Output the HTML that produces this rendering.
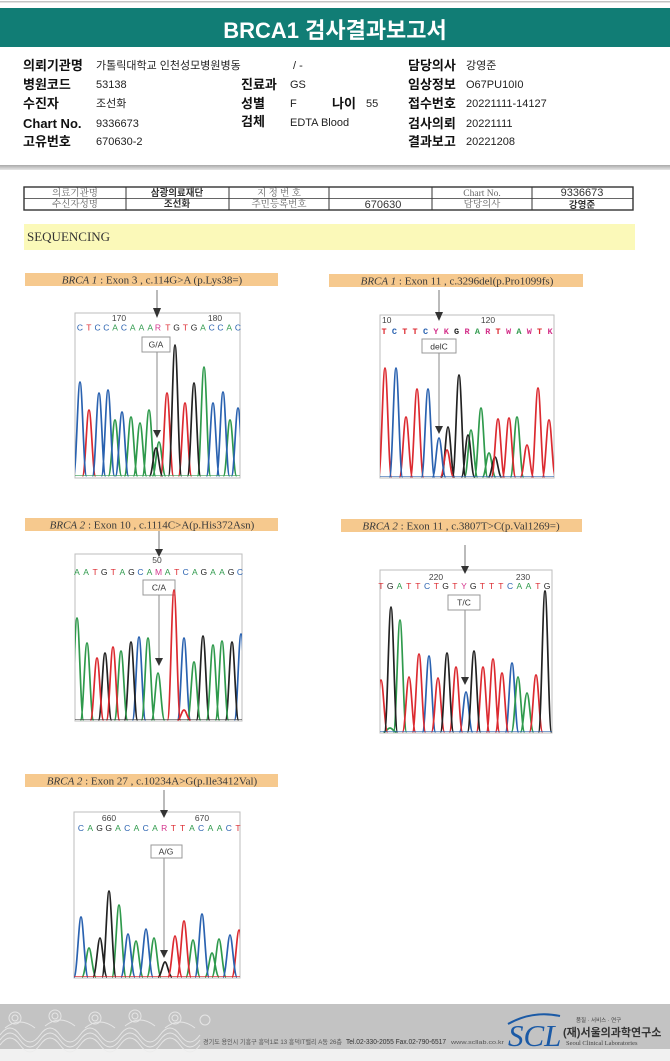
<!DOCTYPE html>
<html><head><meta charset="utf-8">
<style>
html,body{margin:0;padding:0;background:#fff;}
svg{display:block;}
.k{font-family:"Liberation Sans","Noto Sans CJK KR",sans-serif;}
.lb{font-family:"Liberation Sans","Noto Sans CJK KR",sans-serif;font-weight:bold;font-size:13px;fill:#111;}
.vl{font-family:"Liberation Sans","Noto Sans CJK KR",sans-serif;font-size:11px;fill:#222;}
.tg{font-family:"Liberation Serif","Noto Serif CJK SC","Noto Sans CJK KR",serif;font-size:9.5px;fill:#666;}
.tb{font-family:"Liberation Sans","Noto Sans CJK KR",sans-serif;font-size:9.5px;font-weight:bold;fill:#333;}
.band{font-family:"Liberation Serif",serif;font-size:11px;fill:#3a3a3a;}
.num{font-family:"Liberation Sans",sans-serif;font-size:8.5px;fill:#444;}
.seq{font-family:"Liberation Sans",sans-serif;font-size:8.5px;}
.seqb{font-family:"Liberation Mono",monospace;font-size:8.5px;font-weight:bold;}
.bx{font-family:"Liberation Sans",sans-serif;font-size:8.5px;fill:#333;}
.pk{fill:none;stroke-width:1.7;stroke-linejoin:round;}
.B{fill:#2a62b0}.R{fill:#dc2a30}.G{fill:#2f9a4c}.K{fill:#222}.M{fill:#d4348c}
</style></head>
<body>
<svg width="670" height="1061" viewBox="0 0 670 1061" xmlns="http://www.w3.org/2000/svg">
<defs>
<clipPath id="c1"><rect x="75" y="313" width="165" height="165"/></clipPath>
<clipPath id="c2"><rect x="380" y="315" width="174" height="163"/></clipPath>
<clipPath id="c3"><rect x="75" y="554" width="167" height="167"/></clipPath>
<clipPath id="c4"><rect x="380" y="570" width="172" height="163"/></clipPath>
<clipPath id="c5"><rect x="74" y="812" width="166" height="166"/></clipPath>
<linearGradient id="gl" x1="0" y1="0" x2="0" y2="1"><stop offset="0" stop-color="#a9a9a9"/><stop offset="1" stop-color="#e6e6e6"/></linearGradient>
</defs>

<!-- header -->
<rect x="0" y="1" width="670" height="1.5" fill="#c4c4c4"/>
<rect x="0" y="8" width="670" height="39" fill="#117d75"/>
<text x="335" y="38" text-anchor="middle" class="k" font-size="22" font-weight="bold" fill="#fff">BRCA1 검사결과보고서</text>

<g>
<text x="23" y="70" class="lb">의뢰기관명</text><text x="96" y="69" class="vl">가톨릭대학교 인천성모병원병동</text><text x="293" y="69" class="vl">/ -</text>
<text x="408" y="70" class="lb">담당의사</text><text x="466" y="69" class="vl">강영준</text>

<text x="23" y="89" class="lb">병원코드</text><text x="96" y="88" class="vl">53138</text>
<text x="241" y="89" class="lb">진료과</text><text x="290" y="88" class="vl">GS</text>
<text x="408" y="89" class="lb">임상정보</text><text x="466" y="88" class="vl">O67PU10I0</text>

<text x="23" y="108" class="lb">수진자</text><text x="96" y="107" class="vl">조선화</text>
<text x="241" y="108" class="lb">성별</text><text x="290" y="107" class="vl">F</text>
<text x="332" y="108" class="lb">나이</text><text x="366" y="107" class="vl">55</text>
<text x="408" y="108" class="lb">접수번호</text><text x="466" y="107" class="vl">20221111-14127</text>

<text x="23" y="128" class="lb" font-size="14">Chart No.</text><text x="96" y="127" class="vl">9336673</text>
<text x="241" y="126" class="lb">검체</text><text x="290" y="126" class="vl">EDTA Blood</text>
<text x="408" y="128" class="lb">검사의뢰</text><text x="466" y="127" class="vl">20221111</text>

<text x="23" y="146" class="lb">고유번호</text><text x="96" y="145" class="vl">670630-2</text>
<text x="408" y="146" class="lb">결과보고</text><text x="466" y="145" class="vl">20221208</text>
</g>

<rect x="0" y="165" width="670" height="5" fill="url(#gl)"/>

<!-- table -->
<g stroke="#333" fill="none">
<rect x="24" y="187" width="609" height="23" stroke-width="1.4"/>
<line x1="24" y1="198.5" x2="633" y2="198.5" stroke-width="0.8"/>
<line x1="126" y1="187" x2="126" y2="210" stroke-width="1"/>
<line x1="229" y1="187" x2="229" y2="210" stroke-width="1"/>
<line x1="329" y1="187" x2="329" y2="210" stroke-width="1"/>
<line x1="432" y1="187" x2="432" y2="210" stroke-width="1"/>
<line x1="532" y1="187" x2="532" y2="210" stroke-width="1"/>
</g>
<g text-anchor="middle">
<text x="75" y="196" class="tg">의료기관명</text>
<text x="177" y="196" class="tb">삼광의료재단</text>
<text x="279" y="196" class="tg">지 정 번 호</text>
<text x="482" y="196" class="tg" font-size="10.5">Chart No.</text>
<text x="582" y="196" class="k" font-size="11" fill="#333">9336673</text>
<text x="75" y="207" class="tg">수신자성명</text>
<text x="177" y="207" class="tb">조선화</text>
<text x="279" y="207" class="tg">주민등록번호</text>
<text x="383" y="208" class="k" font-size="11" fill="#333">670630</text>
<text x="482" y="207" class="tg">담당의사</text>
<text x="582" y="208" class="tb">강영준</text>
</g>

<!-- sequencing band -->
<rect x="24" y="224" width="611" height="26" fill="#fbf9b9"/>
<text x="27" y="241" font-family="Liberation Serif,serif" font-size="13" fill="#333">SEQUENCING</text>

<!-- ===== Chart 1 ===== -->
<rect x="25" y="273" width="253" height="13" fill="#f6c98e"/>
<text x="152" y="283.5" text-anchor="middle" class="band"><tspan font-style="italic">BRCA 1</tspan> : Exon 3 , c.114G&gt;A (p.Lys38=)</text>
<line x1="157" y1="290" x2="157" y2="310" stroke="#777" stroke-width="1"/>
<rect x="75" y="313" width="165" height="165" fill="#fff" stroke="#bdbdbd" stroke-width="1"/>
<polygon points="153,308 161,308 157,318" fill="#333"/>
<text x="119" y="321" text-anchor="middle" class="num">170</text>
<text x="215" y="321" text-anchor="middle" class="num">180</text>
<text y="330.5" text-anchor="middle" class="seq" x="80 88.8 97.6 106.3 115.1 123.9 132.7 141.4 150.2 158 167.8 176.6 185.3 194.1 202.9 211.7 220.4 229.2 238"><tspan class="B">C</tspan><tspan class="R">T</tspan><tspan class="B">CC</tspan><tspan class="G">A</tspan><tspan class="B">C</tspan><tspan class="G">AAA</tspan><tspan class="M">R</tspan><tspan class="R">T</tspan><tspan class="K">G</tspan><tspan class="R">T</tspan><tspan class="K">G</tspan><tspan class="G">A</tspan><tspan class="B">CC</tspan><tspan class="G">A</tspan><tspan class="B">C</tspan></text>
<line x1="157" y1="352" x2="157" y2="431" stroke="#888" stroke-width="1"/>
<rect x="142" y="337" width="28" height="15" fill="#fff" stroke="#999" stroke-width="1"/>
<text x="156" y="347.5" text-anchor="middle" class="bx">G/A</text>
<g clip-path="url(#c1)">
<path class="pk" stroke="#2f9a4c" d="M108.5,476c2.8,0 4.2,-56 6.5,-56c2.3,0 3.7,56 6.5,56M124.5,476c2.8,0 4.2,-59 6.5,-59c2.3,0 3.7,59 6.5,59M133.5,476c2.8,0 4.2,-53 6.5,-53c2.3,0 3.7,53 6.5,53M142.5,476c2.8,0 4.2,-66 6.5,-66c2.3,0 3.7,66 6.5,66M152.5,476c2.8,0 4.2,-34 6.5,-34c2.3,0 3.7,34 6.5,34M197.5,476c2.8,0 4.2,-109 6.5,-109c2.3,0 3.7,109 6.5,109M223.5,476c2.8,0 4.2,-56 6.5,-56c2.3,0 3.7,56 6.5,56"/>
<path class="pk" stroke="#dc2a30" d="M82.5,476c2.8,0 4.2,-66 6.5,-66c2.3,0 3.7,66 6.5,66M160.5,476c2.8,0 4.2,-83 6.5,-83c2.3,0 3.7,83 6.5,83M178.5,476c2.8,0 4.2,-73 6.5,-73c2.3,0 3.7,73 6.5,73"/>
<path class="pk" stroke="#2a62b0" d="M73.5,476c2.8,0 4.2,-94 6.5,-94c2.3,0 3.7,94 6.5,94M92.5,476c2.8,0 4.2,-83 6.5,-83c2.3,0 3.7,83 6.5,83M101.5,476c2.8,0 4.2,-86 6.5,-86c2.3,0 3.7,86 6.5,86M115.5,476c2.8,0 4.2,-64 6.5,-64c2.3,0 3.7,64 6.5,64M206.5,476c2.8,0 4.2,-73 6.5,-73c2.3,0 3.7,73 6.5,73M216.5,476c2.8,0 4.2,-84 6.5,-84c2.3,0 3.7,84 6.5,84M231.5,476c2.8,0 4.2,-68 6.5,-68c2.3,0 3.7,68 6.5,68"/>
<path class="pk" stroke="#222" d="M149.5,476c2.8,0 4.2,-28 6.5,-28c2.3,0 3.7,28 6.5,28M168.5,476c2.8,0 4.2,-131 6.5,-131c2.3,0 3.7,131 6.5,131M187.5,476c2.8,0 4.2,-93 6.5,-93c2.3,0 3.7,93 6.5,93"/>
<path d="M75,475.5h165" stroke="#2f9a4c" stroke-width="1" opacity=".6"/>
</g>
<polygon points="153,430 161,430 157,438" fill="#333"/>

<!-- ===== Chart 2 ===== -->
<rect x="329" y="274" width="254" height="13" fill="#f6c98e"/>
<text x="457" y="284.5" text-anchor="middle" class="band"><tspan font-style="italic">BRCA 1</tspan> : Exon 11 , c.3296del(p.Pro1099fs)</text>
<line x1="439" y1="290" x2="439" y2="312" stroke="#777" stroke-width="1"/>
<rect x="380" y="315" width="174" height="163" fill="#fff" stroke="#bdbdbd" stroke-width="1"/>
<polygon points="435,312 443,312 439,321" fill="#333"/>
<text x="382" y="323" class="num">10</text>
<text x="488" y="323" text-anchor="middle" class="num">120</text>
<text y="334" text-anchor="middle" class="seqb" x="384 394.4 404.8 415.1 425.5 435.9 446.3 456.6 467 477.4 487.8 498.1 508.5 518.9 529.3 539.6 550"><tspan class="R">T</tspan><tspan class="B">C</tspan><tspan class="R">TT</tspan><tspan class="B">C</tspan><tspan class="M">YK</tspan><tspan class="K">G</tspan><tspan class="M">R</tspan><tspan class="G">A</tspan><tspan class="M">R</tspan><tspan class="R">T</tspan><tspan class="M">W</tspan><tspan class="G">A</tspan><tspan class="M">W</tspan><tspan class="R">T</tspan><tspan class="M">K</tspan></text>
<line x1="439" y1="353" x2="439" y2="428" stroke="#888" stroke-width="1"/>
<rect x="422" y="339" width="34" height="14" fill="#fff" stroke="#999" stroke-width="1"/>
<text x="439" y="349.5" text-anchor="middle" class="bx">delC</text>
<g clip-path="url(#c2)">
<path class="pk" stroke="#2f9a4c" d="M464.5,477c2.8,0 4.2,-47 6.5,-47c2.3,0 3.7,47 6.5,47M474.5,477c2.8,0 4.2,-69 6.5,-69c2.3,0 3.7,69 6.5,69M482.5,477c2.8,0 4.2,-24 6.5,-24c2.3,0 3.7,24 6.5,24M510.5,477c2.8,0 4.2,-60 6.5,-60c2.3,0 3.7,60 6.5,60"/>
<path class="pk" stroke="#222" d="M441.5,477c2.8,0 4.2,-50 6.5,-50c2.3,0 3.7,50 6.5,50M452.5,477c2.8,0 4.2,-102 6.5,-102c2.3,0 3.7,102 6.5,102M461.5,477c2.8,0 4.2,-42 6.5,-42c2.3,0 3.7,42 6.5,42M488.5,477c2.8,0 4.2,-20 6.5,-20c2.3,0 3.7,20 6.5,20"/>
<path class="pk" stroke="#dc2a30" d="M378.5,477c2.8,0 4.2,-109 6.5,-109c2.3,0 3.7,109 6.5,109M399.5,477c2.8,0 4.2,-60 6.5,-60c2.3,0 3.7,60 6.5,60M410.5,477c2.8,0 4.2,-88 6.5,-88c2.3,0 3.7,88 6.5,88M440.5,477c2.8,0 4.2,-27 6.5,-27c2.3,0 3.7,27 6.5,27M491.5,477c2.8,0 4.2,-58 6.5,-58c2.3,0 3.7,58 6.5,58M502.5,477c2.8,0 4.2,-59 6.5,-59c2.3,0 3.7,59 6.5,59M520.5,477c2.8,0 4.2,-32 6.5,-32c2.3,0 3.7,32 6.5,32M531.5,477c2.8,0 4.2,-89 6.5,-89c2.3,0 3.7,89 6.5,89M542.5,477c2.8,0 4.2,-57 6.5,-57c2.3,0 3.7,57 6.5,57"/>
<path class="pk" stroke="#2a62b0" d="M389.5,477c2.8,0 4.2,-109 6.5,-109c2.3,0 3.7,109 6.5,109M421.5,477c2.8,0 4.2,-88 6.5,-88c2.3,0 3.7,88 6.5,88M432.5,477c2.8,0 4.2,-39 6.5,-39c2.3,0 3.7,39 6.5,39"/>
<path d="M380,476.5h174" stroke="#2a62b0" stroke-width="1" opacity=".6"/>
</g>
<polygon points="435,426 443,426 439,434" fill="#333"/>

<!-- ===== Chart 3 ===== -->
<rect x="25" y="518" width="253" height="13" fill="#f6c98e"/>
<text x="152" y="528.5" text-anchor="middle" class="band"><tspan font-style="italic">BRCA 2</tspan> : Exon 10 , c.1114C&gt;A(p.His372Asn)</text>
<line x1="159" y1="531" x2="159" y2="550" stroke="#777" stroke-width="1"/>
<rect x="75" y="554" width="167" height="167" fill="#fff" stroke="#bdbdbd" stroke-width="1"/>
<polygon points="155,549 163,549 159,557" fill="#333"/>
<text x="157" y="563" text-anchor="middle" class="num">50</text>
<text y="575" text-anchor="middle" class="seq" x="77 86.1 95.1 104.2 113.2 122.3 131.4 140.4 149.5 158.5 167.6 176.7 185.7 194.8 203.8 212.9 222 231 240"><tspan class="G">AA</tspan><tspan class="R">T</tspan><tspan class="K">G</tspan><tspan class="R">T</tspan><tspan class="G">A</tspan><tspan class="K">G</tspan><tspan class="B">C</tspan><tspan class="G">A</tspan><tspan class="M">M</tspan><tspan class="G">A</tspan><tspan class="R">T</tspan><tspan class="B">C</tspan><tspan class="G">A</tspan><tspan class="K">G</tspan><tspan class="G">AA</tspan><tspan class="K">G</tspan><tspan class="B">C</tspan></text>
<line x1="159" y1="595" x2="159" y2="660" stroke="#888" stroke-width="1"/>
<rect x="143" y="580" width="32" height="15" fill="#fff" stroke="#999" stroke-width="1"/>
<text x="159" y="590.5" text-anchor="middle" class="bx">C/A</text>
<g clip-path="url(#c3)">
<path class="pk" stroke="#2a62b0" d="M132.5,720c2.8,0 4.2,-83 6.5,-83c2.3,0 3.7,83 6.5,83M177.5,720c2.8,0 4.2,-82 6.5,-82c2.3,0 3.7,82 6.5,82M234.5,720c2.8,0 4.2,-86 6.5,-86c2.3,0 3.7,86 6.5,86"/>
<path class="pk" stroke="#222" d="M98.5,720c2.8,0 4.2,-67 6.5,-67c2.3,0 3.7,67 6.5,67M124.5,720c2.8,0 4.2,-78 6.5,-78c2.3,0 3.7,78 6.5,78M196.5,720c2.8,0 4.2,-84 6.5,-84c2.3,0 3.7,84 6.5,84M225.5,720c2.8,0 4.2,-78 6.5,-78c2.3,0 3.7,78 6.5,78"/>
<path class="pk" stroke="#2f9a4c" d="M70.5,720c2.8,0 4.2,-102 6.5,-102c2.3,0 3.7,102 6.5,102M80.5,720c2.8,0 4.2,-77 6.5,-77c2.3,0 3.7,77 6.5,77M114.5,720c2.8,0 4.2,-69 6.5,-69c2.3,0 3.7,69 6.5,69M141.5,720c2.8,0 4.2,-82 6.5,-82c2.3,0 3.7,82 6.5,82M151.5,720c2.8,0 4.2,-47 6.5,-47c2.3,0 3.7,47 6.5,47M187.5,720c2.8,0 4.2,-58 6.5,-58c2.3,0 3.7,58 6.5,58M206.5,720c2.8,0 4.2,-75 6.5,-75c2.3,0 3.7,75 6.5,75M215.5,720c2.8,0 4.2,-79 6.5,-79c2.3,0 3.7,79 6.5,79"/>
<path class="pk" stroke="#dc2a30" d="M90.5,720c2.8,0 4.2,-62 6.5,-62c2.3,0 3.7,62 6.5,62M106.5,720c2.8,0 4.2,-73 6.5,-73c2.3,0 3.7,73 6.5,73M167.5,720c2.8,0 4.2,-130 6.5,-130c2.3,0 3.7,130 6.5,130M177.5,720c2.8,0 4.2,-10 6.5,-10c2.3,0 3.7,10 6.5,10"/>
<path d="M75,719.5h167" stroke="#222" stroke-width="1" opacity=".5"/>
</g>
<polygon points="155,658 163,658 159,666" fill="#333"/>

<!-- ===== Chart 4 ===== -->
<rect x="341" y="519" width="241" height="13" fill="#f6c98e"/>
<text x="461" y="529.5" text-anchor="middle" class="band"><tspan font-style="italic">BRCA 2</tspan> : Exon 11 , c.3807T&gt;C(p.Val1269=)</text>
<line x1="465" y1="545" x2="465" y2="567" stroke="#777" stroke-width="1"/>
<rect x="380" y="570" width="172" height="163" fill="#fff" stroke="#bdbdbd" stroke-width="1"/>
<polygon points="461,566 469,566 465,574" fill="#333"/>
<text x="436" y="580" text-anchor="middle" class="num">220</text>
<text x="523" y="580" text-anchor="middle" class="num">230</text>
<text y="589" text-anchor="middle" class="seq" x="381 390.2 399.4 408.7 417.9 427.1 436.3 445.5 454.8 464 473.2 482.4 491.6 500.9 510.1 519.3 528.5 537.8 547"><tspan class="R">T</tspan><tspan class="K">G</tspan><tspan class="G">A</tspan><tspan class="R">TT</tspan><tspan class="B">C</tspan><tspan class="R">T</tspan><tspan class="K">G</tspan><tspan class="R">T</tspan><tspan class="M">Y</tspan><tspan class="K">G</tspan><tspan class="R">TTT</tspan><tspan class="B">C</tspan><tspan class="G">AA</tspan><tspan class="R">T</tspan><tspan class="K">G</tspan></text>
<line x1="465" y1="610" x2="465" y2="678" stroke="#888" stroke-width="1"/>
<rect x="448" y="595" width="32" height="15" fill="#fff" stroke="#999" stroke-width="1"/>
<text x="464" y="605.5" text-anchor="middle" class="bx">T/C</text>
<g clip-path="url(#c4)">
<path class="pk" stroke="#2a62b0" d="M422.5,732c2.8,0 4.2,-76 6.5,-76c2.3,0 3.7,76 6.5,76M459.5,732c2.8,0 4.2,-40 6.5,-40c2.3,0 3.7,40 6.5,40M505.5,732c2.8,0 4.2,-69 6.5,-69c2.3,0 3.7,69 6.5,69"/>
<path class="pk" stroke="#2f9a4c" d="M393.5,732c2.8,0 4.2,-112 6.5,-112c2.3,0 3.7,112 6.5,112M511.5,732c2.8,0 4.2,-55 6.5,-55c2.3,0 3.7,55 6.5,55M520.5,732c2.8,0 4.2,-39 6.5,-39c2.3,0 3.7,39 6.5,39M383.5,732c2.8,0 4.2,-4 6.5,-4c2.3,0 3.7,4 6.5,4"/>
<path class="pk" stroke="#dc2a30" d="M374.5,732c2.8,0 4.2,-52 6.5,-52c2.3,0 3.7,52 6.5,52M402.5,732c2.8,0 4.2,-55 6.5,-55c2.3,0 3.7,55 6.5,55M412.5,732c2.8,0 4.2,-78 6.5,-78c2.3,0 3.7,78 6.5,78M431.5,732c2.8,0 4.2,-54 6.5,-54c2.3,0 3.7,54 6.5,54M449.5,732c2.8,0 4.2,-65 6.5,-65c2.3,0 3.7,65 6.5,65M476.5,732c2.8,0 4.2,-65 6.5,-65c2.3,0 3.7,65 6.5,65M486.5,732c2.8,0 4.2,-73 6.5,-73c2.3,0 3.7,73 6.5,73M495.5,732c2.8,0 4.2,-59 6.5,-59c2.3,0 3.7,59 6.5,59M529.5,732c2.8,0 4.2,-57 6.5,-57c2.3,0 3.7,57 6.5,57"/>
<path class="pk" stroke="#222" d="M384.5,732c2.8,0 4.2,-125 6.5,-125c2.3,0 3.7,125 6.5,125M440.5,732c2.8,0 4.2,-79 6.5,-79c2.3,0 3.7,79 6.5,79M467.5,732c2.8,0 4.2,-81 6.5,-81c2.3,0 3.7,81 6.5,81M538.5,732c2.8,0 4.2,-141 6.5,-141c2.3,0 3.7,141 6.5,141"/>
<path d="M380,731.5h172" stroke="#2a62b0" stroke-width="1" opacity=".6"/>
</g>
<polygon points="461,677 469,677 465,685" fill="#333"/>

<!-- ===== Chart 5 ===== -->
<rect x="25" y="774" width="253" height="13" fill="#f6c98e"/>
<text x="152" y="784.5" text-anchor="middle" class="band"><tspan font-style="italic">BRCA 2</tspan> : Exon 27 , c.10234A&gt;G(p.Ile3412Val)</text>
<line x1="164" y1="790" x2="164" y2="811" stroke="#777" stroke-width="1"/>
<rect x="74" y="812" width="166" height="166" fill="#fff" stroke="#bdbdbd" stroke-width="1"/>
<polygon points="160,810 168,810 164,818" fill="#333"/>
<text x="109" y="821" text-anchor="middle" class="num">660</text>
<text x="202" y="821" text-anchor="middle" class="num">670</text>
<text y="831" text-anchor="middle" class="seq" x="81 90.2 99.5 108.7 118 127.2 136.4 145.7 154.9 164.2 173.4 182.6 191.9 201.1 210.4 219.6 228.8 238"><tspan class="B">C</tspan><tspan class="G">A</tspan><tspan class="K">GG</tspan><tspan class="G">A</tspan><tspan class="B">C</tspan><tspan class="G">A</tspan><tspan class="B">C</tspan><tspan class="G">A</tspan><tspan class="M">R</tspan><tspan class="R">TT</tspan><tspan class="G">A</tspan><tspan class="B">C</tspan><tspan class="G">AA</tspan><tspan class="B">C</tspan><tspan class="R">T</tspan></text>
<line x1="164" y1="858" x2="164" y2="952" stroke="#888" stroke-width="1"/>
<rect x="151" y="845" width="31" height="13" fill="#fff" stroke="#999" stroke-width="1"/>
<text x="166" y="854.5" text-anchor="middle" class="bx">A/G</text>
<g clip-path="url(#c5)">
<path class="pk" stroke="#2f9a4c" d="M82,977c3,0 4.8,-29 7,-29c2.2,0 4,29 7,29M112,977c3,0 4.8,-72 7,-72c2.2,0 4,72 7,72M129,977c3,0 4.8,-36 7,-36c2.2,0 4,36 7,36M147,977c3,0 4.8,-39 7,-39c2.2,0 4,39 7,39M186,977c3,0 4.8,-37 7,-37c2.2,0 4,37 7,37M205,977c3,0 4.8,-24 7,-24c2.2,0 4,24 7,24M212,977c3,0 4.8,-38 7,-38c2.2,0 4,38 7,38"/>
<path class="pk" stroke="#222" d="M93,977c3,0 4.8,-39 7,-39c2.2,0 4,39 7,39M102,977c3,0 4.8,-86 7,-86c2.2,0 4,86 7,86M158,977c3,0 4.8,-15 7,-15c2.2,0 4,15 7,15"/>
<path class="pk" stroke="#dc2a30" d="M168,977c3,0 4.8,-41 7,-41c2.2,0 4,41 7,41M177,977c3,0 4.8,-56 7,-56c2.2,0 4,56 7,56M232,977c3,0 4.8,-47 7,-47c2.2,0 4,47 7,47"/>
<path class="pk" stroke="#2a62b0" d="M74,977c3,0 4.8,-60 7,-60c2.2,0 4,60 7,60M121,977c3,0 4.8,-43 7,-43c2.2,0 4,43 7,43M139,977c3,0 4.8,-48 7,-48c2.2,0 4,48 7,48M195,977c3,0 4.8,-63 7,-63c2.2,0 4,63 7,63M223,977c3,0 4.8,-42 7,-42c2.2,0 4,42 7,42"/>
<path d="M74,976.5h166" stroke="#dc2a30" stroke-width="1" opacity=".7"/>
</g>
<polygon points="160,950 168,950 164,958" fill="#333"/>

<!-- footer -->
<rect x="0" y="1004" width="670" height="45" fill="#c3c3c3"/>
<rect x="0" y="1049" width="670" height="12" fill="#f1f1f1"/>
<g fill="none" stroke="#ececec" stroke-width="1" opacity=".85">
<path d="M0,1040 q10,-14 20,0 t20,0 t20,0 t20,0 t20,0 t20,0 t20,0 t20,0 t20,0 t20,0"/>
<path d="M0,1045 q10,-14 20,0 t20,0 t20,0 t20,0 t20,0 t20,0 t20,0 t20,0 t20,0 t20,0"/>
<path d="M0,1035 q10,-14 20,0 t20,0 t20,0 t20,0 t20,0 t20,0 t20,0 t20,0 t20,0 t20,0"/>
<circle cx="15" cy="1018" r="6"/><circle cx="15" cy="1018" r="3"/>
<circle cx="55" cy="1016" r="6"/><circle cx="55" cy="1016" r="3"/>
<circle cx="95" cy="1018" r="6"/><circle cx="95" cy="1018" r="3"/>
<circle cx="135" cy="1016" r="6"/><circle cx="135" cy="1016" r="3"/>
<circle cx="175" cy="1018" r="6"/><circle cx="175" cy="1018" r="3"/>
<circle cx="205" cy="1020" r="5"/>
<path d="M5,1028 q15,-12 30,0 M45,1026 q15,-12 30,0 M85,1028 q15,-12 30,0 M125,1026 q15,-12 30,0 M165,1028 q15,-12 30,0"/>
</g>
<text x="203" y="1044" class="k" font-size="6.5" fill="#555" textLength="139" lengthAdjust="spacingAndGlyphs">경기도 용인시 기흥구 흥덕1로 13 흥덕IT밸리 A동 26층</text>
<text x="346" y="1044" class="k" font-size="7" fill="#333" textLength="100" lengthAdjust="spacingAndGlyphs">Tel.02-330-2055  Fax.02-790-6517</text>
<text x="451" y="1044" class="k" font-size="5.5" fill="#555" textLength="53" lengthAdjust="spacingAndGlyphs">www.scllab.co.kr</text>
<path d="M508,1024 q25,-14 52,-8" fill="none" stroke="#1b5aa6" stroke-width="2"/>
<text x="508" y="1046" font-family="Liberation Serif,serif" font-style="italic" font-size="31" fill="#1b5aa6">SCL</text>
<text x="576" y="1022" class="k" font-size="5.5" fill="#444">품질 · 서비스 · 연구</text>
<text x="563" y="1036" class="k" font-size="11" font-weight="bold" fill="#333">(재)서울의과학연구소</text>
<text x="566" y="1045" font-family="Liberation Serif,serif" font-size="6.5" fill="#444">Seoul Clinical Laboratories</text>
</svg>
</body></html>
